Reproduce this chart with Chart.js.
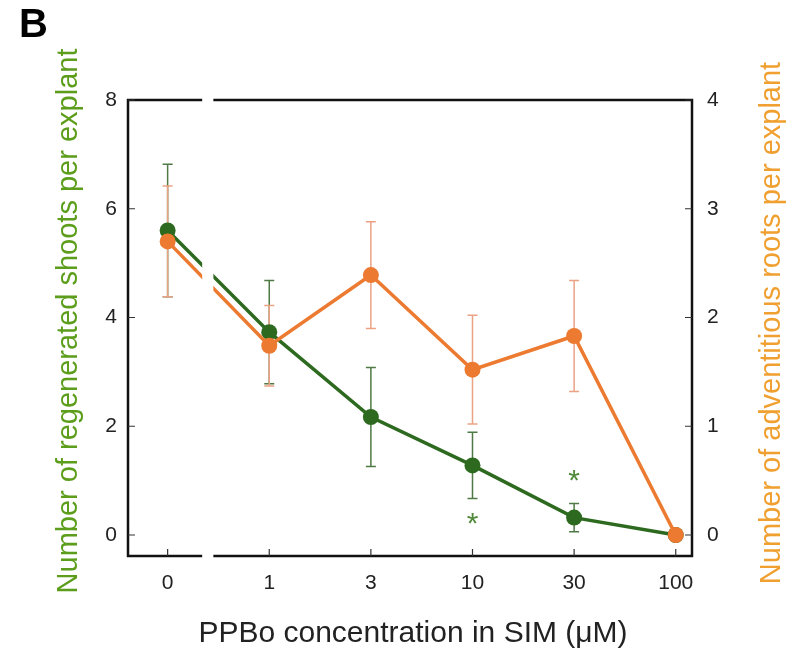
<!DOCTYPE html>
<html>
<head>
<meta charset="utf-8">
<script src="https://cdn.jsdelivr.net/npm/chart.js@4/dist/chart.umd.min.js"></script>
<style>
  html, body { margin: 0; padding: 0; background: #fff; }
  canvas { display: block; }
</style>
</head>
<body>
<canvas id="chart" width="796" height="657"></canvas>
<script>
// PPBo concentration (uM) categories
const concLabels = ['0', '1', '3', '10', '30', '100'];

// shoots per explant (left axis)
const shoots = [5.6, 3.73, 2.17, 1.28, 0.32, 0.0];
const shootsSd = [1.22, 0.95, 0.91, 0.61, 0.26, 0];

// adventitious roots per explant (right axis)
const roots = [2.70, 1.74, 2.39, 1.52, 1.83, 0.0];
const rootsSd = [0.51, 0.37, 0.49, 0.50, 0.51, 0];

// significance marks: category index + left-axis value
const starX = [3, 4];
const starY = [0.29, 1.08];

const leftTicks = [0, 2, 4, 6, 8];
const rightTicks = [0, 1, 2, 3, 4];

const GREEN = '#2d6a1f';
const ORANGE = '#ec7a30';
const FONT = '"Liberation Sans", Arial, sans-serif';

const toPoints = arr => arr.map((v, i) => ({ x: i, y: v }));

// error bars, frame with axis break, inward ticks, titles
const decor = {
  id: 'decor',
  beforeDatasetsDraw(chart) {
    const ctx = chart.ctx;
    const x = chart.scales.x;
    const bars = [
      { scale: chart.scales.y, vals: shoots, sd: shootsSd, color: '#4f7a45' },
      { scale: chart.scales.y1, vals: roots, sd: rootsSd, color: '#eba284' }
    ];
    ctx.save();
    ctx.lineWidth = 1.5;
    bars.forEach(b => {
      ctx.strokeStyle = b.color;
      b.vals.forEach((v, i) => {
        if (!b.sd[i]) return;
        const px = x.getPixelForValue(i);
        const top = b.scale.getPixelForValue(v + b.sd[i]);
        const bot = b.scale.getPixelForValue(v - b.sd[i]);
        ctx.beginPath();
        ctx.moveTo(px, top); ctx.lineTo(px, bot);
        ctx.moveTo(px - 5, top); ctx.lineTo(px + 5, top);
        ctx.moveTo(px - 5, bot); ctx.lineTo(px + 5, bot);
        ctx.stroke();
      });
    });
    ctx.restore();
  },
  afterDatasetsDraw(chart) {
    const ctx = chart.ctx;
    const a = chart.chartArea;
    const x = chart.scales.x, y = chart.scales.y, y1 = chart.scales.y1;
    const gapL = x.getPixelForValue(0.34);
    const gapR = x.getPixelForValue(0.45);
    ctx.save();
    // axis break
    ctx.fillStyle = '#fff';
    ctx.fillRect(gapL, a.top - 3, gapR - gapL, a.bottom - a.top + 6);
    // frame
    ctx.strokeStyle = '#111';
    ctx.lineWidth = 2.5;
    ctx.beginPath();
    ctx.moveTo(a.left, a.top); ctx.lineTo(gapL, a.top);
    ctx.moveTo(gapR, a.top); ctx.lineTo(a.right, a.top);
    ctx.moveTo(a.left, a.bottom); ctx.lineTo(gapL, a.bottom);
    ctx.moveTo(gapR, a.bottom); ctx.lineTo(a.right, a.bottom);
    ctx.moveTo(a.left, a.top - 1.2); ctx.lineTo(a.left, a.bottom + 1.2);
    ctx.moveTo(a.right, a.top - 1.2); ctx.lineTo(a.right, a.bottom + 1.2);
    ctx.stroke();
    // inward ticks
    ctx.lineWidth = 1.2;
    ctx.strokeStyle = '#333';
    ctx.beginPath();
    concLabels.forEach((_, i) => {
      const px = x.getPixelForValue(i);
      ctx.moveTo(px, a.bottom); ctx.lineTo(px, a.bottom - 7);
    });
    leftTicks.forEach(v => {
      const py = y.getPixelForValue(v);
      ctx.moveTo(a.left, py); ctx.lineTo(a.left + 7, py);
    });
    rightTicks.forEach(v => {
      const py = y1.getPixelForValue(v);
      ctx.moveTo(a.right, py); ctx.lineTo(a.right - 7, py);
    });
    ctx.stroke();
    ctx.restore();
  },
  afterDraw(chart) {
    const ctx = chart.ctx;
    const x = chart.scales.x, y = chart.scales.y;
    ctx.save();
    // asterisks
    ctx.fillStyle = '#4f8a3a';
    ctx.font = '30px ' + FONT;
    ctx.textAlign = 'center';
    ctx.textBaseline = 'middle';
    starX.forEach((xi, k) => {
      ctx.fillText('*', x.getPixelForValue(xi), y.getPixelForValue(starY[k]) + 5);
    });
    // panel letter
    ctx.fillStyle = '#000';
    ctx.font = 'bold 40px ' + FONT;
    ctx.textAlign = 'left';
    ctx.textBaseline = 'alphabetic';
    ctx.fillText('B', 19, 37);
    // axis titles
    ctx.font = '30px ' + FONT;
    ctx.textAlign = 'center';
    ctx.fillStyle = '#222';
    ctx.fillText('PPBo concentration in SIM (\u03bcM)', 413, 642);
    ctx.font = '29px ' + FONT;
    ctx.save();
    ctx.translate(77, 321);
    ctx.rotate(-Math.PI / 2);
    ctx.fillStyle = '#5c9e1c';
    ctx.fillText('Number of regenerated shoots per explant', 0, 0);
    ctx.restore();
    ctx.save();
    ctx.translate(780, 323);
    ctx.rotate(-Math.PI / 2);
    ctx.fillStyle = '#f0a030';
    ctx.fillText('Number of adventitious roots per explant', 0, 0);
    ctx.restore();
    ctx.restore();
  }
};

new Chart(document.getElementById('chart'), {
  type: 'line',
  data: {
    datasets: [
      {
        label: 'Shoots',
        data: toPoints(shoots),
        yAxisID: 'y',
        borderColor: GREEN,
        backgroundColor: GREEN,
        borderWidth: 3.5,
        pointRadius: 8,
        pointHoverRadius: 8,
        pointBorderWidth: 0,
        tension: 0,
        order: 2
      },
      {
        label: 'Roots',
        data: toPoints(roots),
        yAxisID: 'y1',
        borderColor: ORANGE,
        backgroundColor: ORANGE,
        borderWidth: 3.5,
        pointRadius: 8,
        pointHoverRadius: 8,
        pointBorderWidth: 0,
        tension: 0,
        order: 1
      }
    ]
  },
  options: {
    responsive: false,
    animation: false,
    layout: { padding: { top: 100, left: 0, right: 0, bottom: 0 } },
    plugins: {
      legend: { display: false },
      tooltip: { enabled: false }
    },
    scales: {
      x: {
        type: 'linear',
        min: -0.39,
        max: 5.16,
        afterBuildTicks: s => { s.ticks = concLabels.map((_, i) => ({ value: i })); },
        afterFit: s => { s.height = 101; },
        grid: { display: false, drawTicks: false },
        border: { display: false },
        ticks: {
          padding: 15,
          color: '#222',
          font: { family: FONT, size: 21 },
          callback: v => concLabels[v]
        }
      },
      y: {
        position: 'left',
        min: -0.386,
        max: 8,
        afterBuildTicks: s => { s.ticks = leftTicks.map(v => ({ value: v })); },
        afterFit: s => { s.width = 128; },
        grid: { display: false, drawTicks: false },
        border: { display: false },
        ticks: { padding: 11, color: '#222', font: { family: FONT, size: 21 } }
      },
      y1: {
        position: 'right',
        min: -0.193,
        max: 4,
        afterBuildTicks: s => { s.ticks = rightTicks.map(v => ({ value: v })); },
        afterFit: s => { s.width = 104; },
        grid: { display: false, drawTicks: false },
        border: { display: false },
        ticks: { padding: 15, color: '#222', font: { family: FONT, size: 21 } }
      }
    }
  },
  plugins: [decor]
});
</script>
</body>
</html>
